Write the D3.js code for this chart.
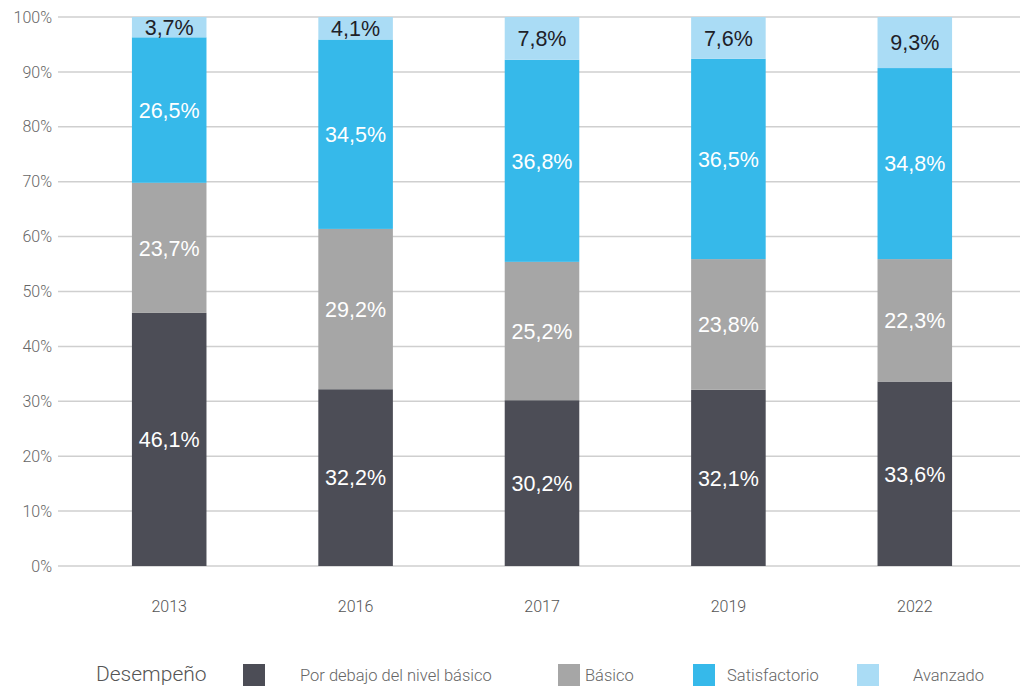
<!DOCTYPE html>
<html><head><meta charset="utf-8">
<script src="https://cdn.jsdelivr.net/npm/d3@7"></script>
<style>body{margin:0;background:#fff;} svg{display:block;}</style>
</head><body>
<svg id="c" width="1020" height="686"></svg>
<script>
const years = ["2013","2016","2017","2019","2022"];
const seriesNames = ["Por debajo del nivel básico","Básico","Satisfactorio","Avanzado"];
const porDebajo = [46.1,32.2,30.2,32.1,33.6];
const basico = [23.7,29.2,25.2,23.8,22.3];
const satisfactorio = [26.5,34.5,36.8,36.5,34.8];
const avanzado = [3.7,4.1,7.8,7.6,9.3];
const yTicks = [0,10,20,30,40,50,60,70,80,90,100];
const colors = ["#4c4d56","#a6a6a6","#36b9ea","#aadcf5"];
const labelColors = ["#ffffff","#ffffff","#ffffff","#1e2128"];
const legendTitle = "Desempeño";

const svg = d3.select("#c");
const x = d3.scaleBand().domain(years).range([76,1008]).paddingInner(0.6).paddingOuter(0.3);
const y = d3.scaleLinear().domain([0,100]).range([566,17]);

const rows = years.map((yr,i)=>({year:yr, s0:porDebajo[i], s1:basico[i], s2:satisfactorio[i], s3:avanzado[i]}));
const stack = d3.stack().keys(["s0","s1","s2","s3"])(rows);

// grid
svg.append("g").selectAll("line").data(yTicks).join("line")
  .attr("x1",58).attr("x2",1020)
  .attr("y1",d=>y(d)).attr("y2",d=>y(d))
  .attr("stroke","#cfcfcf").attr("stroke-width",1.5);

// y labels
svg.append("g").selectAll("text").data(yTicks).join("text")
  .attr("x",52).attr("y",d=>y(d)).attr("dy","0.35em")
  .attr("text-anchor","end").attr("font-family","Roboto, sans-serif").attr("font-weight",300)
  .attr("font-size",16).attr("fill","#666").text(d=>d+"%");

// x labels
svg.append("g").selectAll("text").data(years).join("text")
  .attr("x",d=>x(d)+x.bandwidth()/2).attr("y",606).attr("dy","0.35em")
  .attr("text-anchor","middle").attr("font-family","Roboto, sans-serif").attr("font-weight",300)
  .attr("font-size",16).attr("fill","#555").text(d=>d);

// bars
stack.forEach((layer,k)=>{
  const g = svg.append("g");
  g.selectAll("rect").data(layer).join("rect")
    .attr("x",d=>x(d.data.year)).attr("width",x.bandwidth())
    .attr("y",d=>y(d[1])).attr("height",d=>y(d[0])-y(d[1]))
    .attr("fill",colors[k]);
  g.selectAll("text").data(layer).join("text")
    .attr("x",d=>x(d.data.year)+x.bandwidth()/2)
    .attr("y",d=>y((d[0]+d[1])/2)).attr("dy","0.36em")
    .attr("text-anchor","middle").attr("font-family","'Liberation Sans', Arial, sans-serif")
    .attr("font-size",21.5).attr("fill",labelColors[k])
    .text(d=>(d[1]-d[0]).toFixed(1).replace(".",",")+"%");
});

// legend
const lg = svg.append("g");
lg.append("text").attr("x",96).attr("y",674).attr("dy","0.35em")
  .attr("font-family","Roboto, sans-serif").attr("font-weight",300).attr("font-size",21).attr("fill","#555").text(legendTitle);
const legendSq = [243,558,693,857];
const legendTx = [300,585,727,913];
seriesNames.forEach((n,i)=>{
  lg.append("rect").attr("x",legendSq[i]).attr("y",664).attr("width",22).attr("height",24).attr("fill",colors[i]);
  lg.append("text").attr("x",legendTx[i]).attr("y",675).attr("dy","0.35em")
    .attr("font-family","Roboto, sans-serif").attr("font-weight",300).attr("font-size",16.5).attr("fill","#666").text(n);
});
</script>
</body></html>
